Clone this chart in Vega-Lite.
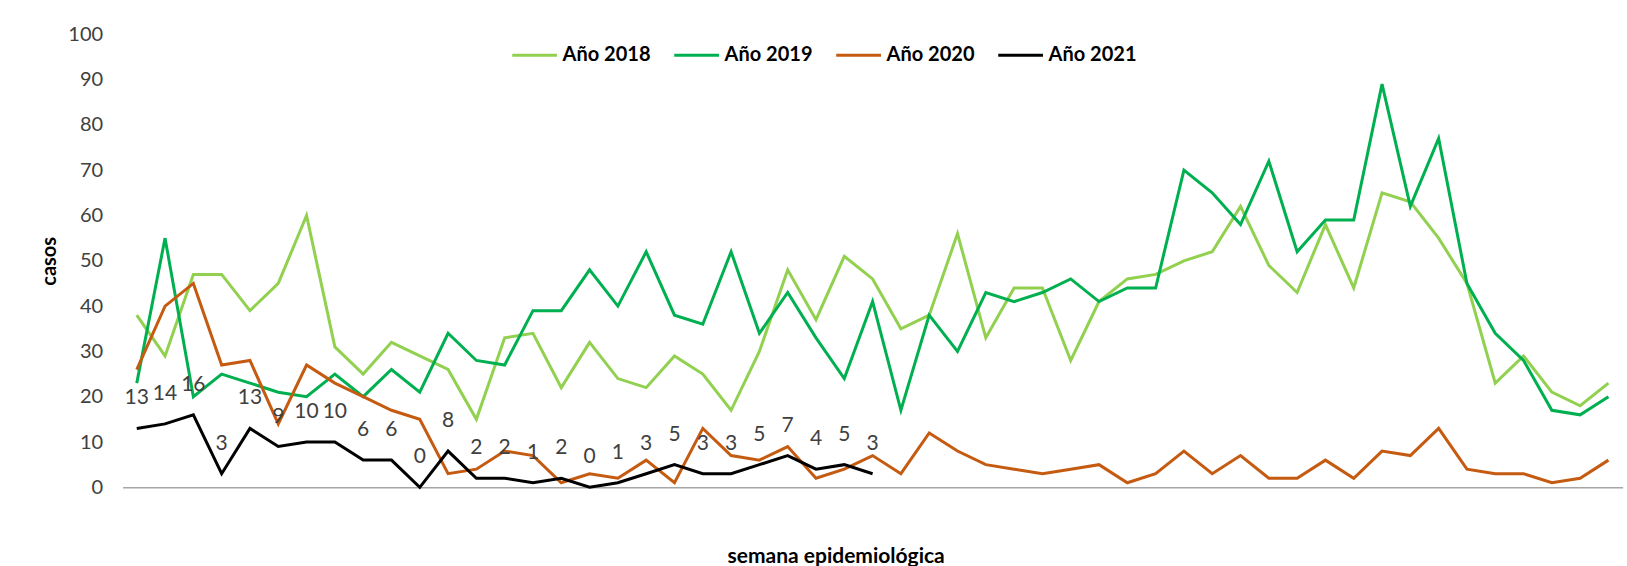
{
  "$schema": "https://vega.github.io/schema/vega-lite/v6.json",
  "width": 1500,
  "height": 453,
  "autosize": {"type": "none"},
  "padding": {"left": 122.6, "top": 34.3, "right": 4.4, "bottom": 78.7},
  "background": "white",
  "config": {"view": {"stroke": null}, "font": "Lato"},
  "data": {
    "values": [
      {"semana": 1, "y2018": 38, "y2019": 23, "y2020": 26, "y2021": 13},
      {"semana": 2, "y2018": 29, "y2019": 55, "y2020": 40, "y2021": 14},
      {"semana": 3, "y2018": 47, "y2019": 20, "y2020": 45, "y2021": 16},
      {"semana": 4, "y2018": 47, "y2019": 25, "y2020": 27, "y2021": 3},
      {"semana": 5, "y2018": 39, "y2019": 23, "y2020": 28, "y2021": 13},
      {"semana": 6, "y2018": 45, "y2019": 21, "y2020": 14, "y2021": 9},
      {"semana": 7, "y2018": 60, "y2019": 20, "y2020": 27, "y2021": 10},
      {"semana": 8, "y2018": 31, "y2019": 25, "y2020": 23, "y2021": 10},
      {"semana": 9, "y2018": 25, "y2019": 20, "y2020": 20, "y2021": 6},
      {"semana": 10, "y2018": 32, "y2019": 26, "y2020": 17, "y2021": 6},
      {"semana": 11, "y2018": 29, "y2019": 21, "y2020": 15, "y2021": 0},
      {"semana": 12, "y2018": 26, "y2019": 34, "y2020": 3, "y2021": 8},
      {"semana": 13, "y2018": 15, "y2019": 28, "y2020": 4, "y2021": 2},
      {"semana": 14, "y2018": 33, "y2019": 27, "y2020": 8, "y2021": 2},
      {"semana": 15, "y2018": 34, "y2019": 39, "y2020": 7, "y2021": 1},
      {"semana": 16, "y2018": 22, "y2019": 39, "y2020": 1, "y2021": 2},
      {"semana": 17, "y2018": 32, "y2019": 48, "y2020": 3, "y2021": 0},
      {"semana": 18, "y2018": 24, "y2019": 40, "y2020": 2, "y2021": 1},
      {"semana": 19, "y2018": 22, "y2019": 52, "y2020": 6, "y2021": 3},
      {"semana": 20, "y2018": 29, "y2019": 38, "y2020": 1, "y2021": 5},
      {"semana": 21, "y2018": 25, "y2019": 36, "y2020": 13, "y2021": 3},
      {"semana": 22, "y2018": 17, "y2019": 52, "y2020": 7, "y2021": 3},
      {"semana": 23, "y2018": 30, "y2019": 34, "y2020": 6, "y2021": 5},
      {"semana": 24, "y2018": 48, "y2019": 43, "y2020": 9, "y2021": 7},
      {"semana": 25, "y2018": 37, "y2019": 33, "y2020": 2, "y2021": 4},
      {"semana": 26, "y2018": 51, "y2019": 24, "y2020": 4, "y2021": 5},
      {"semana": 27, "y2018": 46, "y2019": 41, "y2020": 7, "y2021": 3},
      {"semana": 28, "y2018": 35, "y2019": 17, "y2020": 3},
      {"semana": 29, "y2018": 38, "y2019": 38, "y2020": 12},
      {"semana": 30, "y2018": 56, "y2019": 30, "y2020": 8},
      {"semana": 31, "y2018": 33, "y2019": 43, "y2020": 5},
      {"semana": 32, "y2018": 44, "y2019": 41, "y2020": 4},
      {"semana": 33, "y2018": 44, "y2019": 43, "y2020": 3},
      {"semana": 34, "y2018": 28, "y2019": 46, "y2020": 4},
      {"semana": 35, "y2018": 41, "y2019": 41, "y2020": 5},
      {"semana": 36, "y2018": 46, "y2019": 44, "y2020": 1},
      {"semana": 37, "y2018": 47, "y2019": 44, "y2020": 3},
      {"semana": 38, "y2018": 50, "y2019": 70, "y2020": 8},
      {"semana": 39, "y2018": 52, "y2019": 65, "y2020": 3},
      {"semana": 40, "y2018": 62, "y2019": 58, "y2020": 7},
      {"semana": 41, "y2018": 49, "y2019": 72, "y2020": 2},
      {"semana": 42, "y2018": 43, "y2019": 52, "y2020": 2},
      {"semana": 43, "y2018": 58, "y2019": 59, "y2020": 6},
      {"semana": 44, "y2018": 44, "y2019": 59, "y2020": 2},
      {"semana": 45, "y2018": 65, "y2019": 89, "y2020": 8},
      {"semana": 46, "y2018": 63, "y2019": 62, "y2020": 7},
      {"semana": 47, "y2018": 55, "y2019": 77, "y2020": 13},
      {"semana": 48, "y2018": 45, "y2019": 45, "y2020": 4},
      {"semana": 49, "y2018": 23, "y2019": 34, "y2020": 3},
      {"semana": 50, "y2018": 29, "y2019": 28, "y2020": 3},
      {"semana": 51, "y2018": 21, "y2019": 17, "y2020": 1},
      {"semana": 52, "y2018": 18, "y2019": 16, "y2020": 2},
      {"semana": 53, "y2018": 23, "y2019": 20, "y2020": 6}
    ]
  },
  "transform": [
    {"fold": ["y2018", "y2019", "y2020", "y2021"], "as": ["serie", "casos"]},
    {"filter": {"field": "casos", "valid": true}}
  ],
  "encoding": {
    "x": {
      "field": "semana",
      "type": "ordinal",
      "scale": {"type": "point", "padding": 0.5},
      "axis": {
        "title": "semana epidemiológica",
        "labels": false,
        "ticks": false,
        "grid": false,
        "domainColor": "#a6a6a6",
        "domainWidth": 1.5,
        "titleFontSize": 21,
        "titleFontWeight": "bold",
        "titleColor": "#000000",
        "titleX": 713,
        "titleY": 69,
        "titleBaseline": "middle",
        "titleAlign": "center"
      }
    },
    "y": {
      "field": "casos",
      "type": "quantitative",
      "scale": {"domain": [0, 100], "nice": false},
      "axis": {
        "title": "casos",
        "values": [0, 10, 20, 30, 40, 50, 60, 70, 80, 90, 100],
        "grid": false,
        "domain": false,
        "ticks": false,
        "labelFontSize": 20,
        "labelColor": "#404040",
        "labelPadding": 20,
        "titleFontSize": 20,
        "titleFontWeight": "bold",
        "titleColor": "#000000",
        "titleAngle": 270,
        "titleX": -73,
        "titleY": 226.5,
        "titleBaseline": "middle",
        "titleAlign": "center"
      }
    }
  },
  "layer": [
    {
      "mark": {"type": "line", "strokeWidth": 3, "strokeJoin": "miter"},
      "encoding": {
        "color": {
          "field": "serie",
          "type": "nominal",
          "scale": {
            "domain": ["y2018", "y2019", "y2020", "y2021"],
            "range": ["#92D050", "#00B050", "#C55A11", "#000000"]
          },
          "legend": {
            "orient": "none",
            "legendX": 388,
            "legendY": -3,
            "direction": "horizontal",
            "title": null,
            "symbolType": "stroke",
            "symbolStrokeWidth": 3,
            "symbolSize": 2000,
            "labelFontSize": 20,
            "labelFontWeight": "bold",
            "labelColor": "#000000",
            "labelOffset": 4,
            "columnPadding": 17,
            "labelExpr": "'Año ' + slice(datum.label, 1)"
          }
        }
      }
    },
    {
      "transform": [{"filter": "datum.serie === 'y2021'"}],
      "mark": {"type": "text", "dy": -30, "fontSize": 21, "color": "#404040", "baseline": "middle"},
      "encoding": {"text": {"field": "casos", "type": "quantitative"}}
    }
  ]
}
